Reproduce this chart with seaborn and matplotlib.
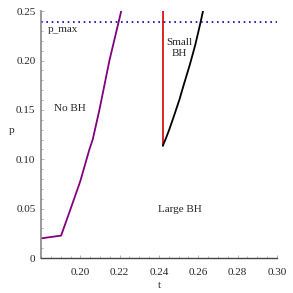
import numpy as np
import pandas as pd
import matplotlib
matplotlib.use("Agg")
import matplotlib.pyplot as plt
import seaborn as sns

# Phase boundaries
t_nobh = [0.180, 0.1902, 0.1915, 0.1949, 0.2000, 0.2046, 0.2063, 0.2097, 0.2148, 0.2208]
p_nobh = [0.020, 0.0228, 0.030, 0.049, 0.078, 0.110, 0.120, 0.150, 0.200, 0.250]

t_red = [0.2420, 0.2420]
p_red = [0.114, 0.250]

t_small = [0.2420, 0.2437, 0.2454, 0.2480, 0.2505, 0.2530, 0.2556, 0.2585, 0.2612, 0.2624]
p_small = [0.114, 0.122, 0.131, 0.146, 0.161, 0.178, 0.195, 0.216, 0.239, 0.250]

P_MAX = 0.239

labels = ["p_max", "No BH", "Small\nBH", "Large BH"]
label_pos = [(0.1835, 0.231), (0.1948, 0.151), (0.2505, 0.213), (0.2505, 0.049)]

sns.set_style("white")
plt.rcParams["font.family"] = ["Liberation Serif", "DejaVu Serif"]

fig = plt.figure(figsize=(2.93, 2.93), dpi=100)
ax = fig.add_axes([0.140, 0.119, 0.805, 0.843])

df_nobh = pd.DataFrame({"t": t_nobh, "p": p_nobh})
df_red = pd.DataFrame({"t": t_red, "p": p_red})
df_small = pd.DataFrame({"t": t_small, "p": p_small})

sns.lineplot(data=df_nobh, x="t", y="p", color="#800080", lw=1.3, sort=False, estimator=None, ax=ax)
sns.lineplot(data=df_red, x="t", y="p", color="#d80000", lw=1.2, sort=False, estimator=None, ax=ax)
sns.lineplot(data=df_small, x="t", y="p", color="black", lw=1.3, sort=False, estimator=None, ax=ax)
ax.axhline(P_MAX, color="#0000cc", lw=1.2, ls=(0, (1, 2.2)))

for txt, (x, y) in zip(labels, label_pos):
    ha = "left" if txt == "p_max" else "center"
    ax.text(x, y, txt, ha=ha, va="center", fontsize=8, linespacing=1.3)

ax.set_xlim(0.18, 0.30)
ax.set_ylim(0, 0.25)
ax.set_xticks([0.20, 0.22, 0.24, 0.26, 0.28, 0.30])
ax.set_xticklabels(["0.20", "0.22", "0.24", "0.26", "0.28", "0.30"])
ax.set_yticks([0, 0.05, 0.10, 0.15, 0.20, 0.25])
ax.set_yticklabels(["0", "0.05", "0.10", "0.15", "0.20", "0.25"])
ax.set_xticks(np.arange(0.18, 0.301, 0.005), minor=True)
ax.set_yticks(np.arange(0, 0.251, 0.01), minor=True)
ax.tick_params(which="both", direction="in", length=2, width=0.5, color="#999999",
               labelsize=8, bottom=True, left=True)
ax.tick_params(axis="x", pad=7)
ax.tick_params(axis="y", pad=4)
ax.tick_params(which="minor", length=1.2)

ax.set_xlabel("t", fontsize=8, labelpad=3)
ax.set_ylabel("p", fontsize=8, rotation=0, labelpad=3)

for s in ["top", "right"]:
    ax.spines[s].set_visible(False)
ax.spines["left"].set_color("#888888")
ax.spines["bottom"].set_color("#444444")
ax.spines["left"].set_linewidth(1.2)
ax.spines["bottom"].set_linewidth(1.0)

fig.savefig("out.png", dpi=100)
